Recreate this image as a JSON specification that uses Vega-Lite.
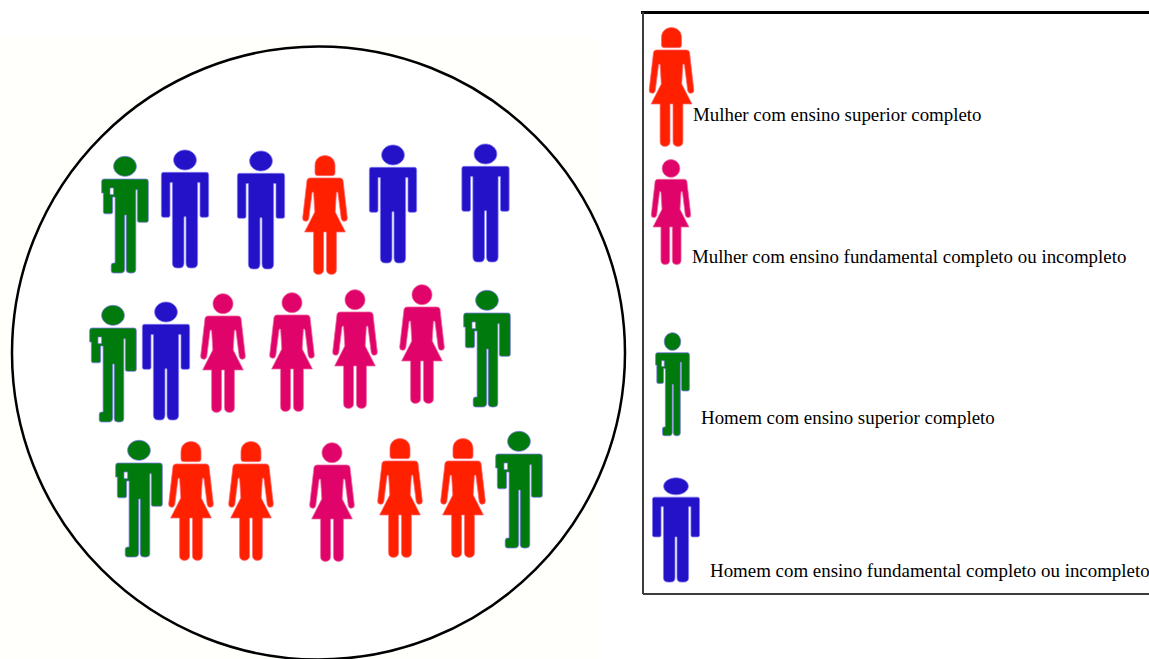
{"$schema":"https://vega.github.io/schema/vega-lite/v6.json","width":1149,"height":659,"padding":0,"autosize":{"type":"none"},"background":"#ffffff","config":{"view":{"stroke":null}},
"datasets":{
"fundo":[{"x":0,"x2":600,"y":38,"y2":659}],
"circulo":[{"x":318.5,"y":353}],
"topo":[{"x":641,"x2":1149,"y":12.5,"y2":12.5}],
"lados":[{"x":643,"x2":643,"y":12,"y2":594},{"x":643,"x2":1149,"y":594,"y2":594}],
"pessoas":[
{"tipo":"HS","x":125,"y":215},{"tipo":"HF","x":185,"y":209},{"tipo":"HF","x":261,"y":210},{"tipo":"MS","x":325,"y":215},{"tipo":"HF","x":393,"y":204},{"tipo":"HF","x":485.5,"y":203},
{"tipo":"HS","x":113,"y":364},{"tipo":"HF","x":166,"y":361},{"tipo":"MF","x":223,"y":353},{"tipo":"MF","x":292,"y":352},{"tipo":"MF","x":355,"y":349},{"tipo":"MF","x":422,"y":344},{"tipo":"HS","x":487,"y":349},
{"tipo":"HS","x":139,"y":499},{"tipo":"MS","x":191,"y":501},{"tipo":"MS","x":251,"y":501},{"tipo":"MF","x":332,"y":502},{"tipo":"MS","x":400,"y":498},{"tipo":"MS","x":463,"y":498},{"tipo":"HS","x":519,"y":490},
{"tipo":"MS","x":671.5,"y":87},{"tipo":"MF legenda","x":671,"y":212},{"tipo":"HS legenda","x":672.5,"y":384.5},{"tipo":"HF legenda","x":676,"y":530}],
"textos":[{"t":"Mulher com ensino superior completo","x":693,"y":121},{"t":"Mulher com ensino fundamental completo ou incompleto","x":692,"y":263},{"t":"Homem com ensino superior completo","x":701,"y":424},{"t":"Homem com ensino fundamental completo ou incompleto","x":710,"y":577}]},
"layer":[
{"data":{"name":"fundo"},"mark":{"type":"rect","fill":"#fffffb"},"encoding":{"x":{"field":"x","type":"quantitative","scale":{"domain":[0,1149],"nice":false,"zero":false},"axis":null},"x2":{"field":"x2"},"y":{"field":"y","type":"quantitative","scale":{"domain":[659,0],"nice":false,"zero":false},"axis":null},"y2":{"field":"y2"}}},
{"data":{"name":"circulo"},"mark":{"type":"point","shape":"circle","filled":true,"fill":"#ffffff","stroke":"#000000","strokeWidth":2.5,"opacity":1,"size":375769,"clip":true},"encoding":{"x":{"field":"x","type":"quantitative"},"y":{"field":"y","type":"quantitative"}}},
{"data":{"name":"topo"},"mark":{"type":"rule","stroke":"#000000","strokeWidth":3},"encoding":{"x":{"field":"x","type":"quantitative"},"x2":{"field":"x2"},"y":{"field":"y","type":"quantitative"},"y2":{"field":"y2"}}},
{"data":{"name":"lados"},"mark":{"type":"rule","stroke":"#3c3c3c","strokeWidth":2},"encoding":{"x":{"field":"x","type":"quantitative"},"x2":{"field":"x2"},"y":{"field":"y","type":"quantitative"},"y2":{"field":"y2"}}},
{"data":{"name":"pessoas"},"mark":{"type":"point","filled":true,"opacity":1,"strokeWidth":1,"strokeOpacity":0.75},"encoding":{"x":{"field":"x","type":"quantitative"},"y":{"field":"y","type":"quantitative"},
"shape":{"field":"tipo","type":"nominal","legend":null,"scale":{"domain":["HF","HS","MS","MF","MF legenda","HS legenda","HF legenda"],"range":[
"M-.19 -.817C-.19 -.909 -.105 -.984 0 -.984C.105 -.984 .19 -.909 .19 -.817C.19 -.725 .105 -.65 0 -.65C-.105 -.65 -.19 -.725 -.19 -.817ZM-.36 -.611L.36 -.611Q.394 -.611 .394 -.57L.394 .11Q.394 .139 .36 .139L.28 .139Q.25 .139 .25 .11L.25 -.44L.21 -.44L.21 .9Q.21 .983 .13 .983L.09 .983Q.017 .983 .017 .9L.017 .13L-.017 .13L-.017 .9Q-.017 .983 -.09 .983L-.13 .983Q-.21 .983 -.21 .9L-.21 -.44L-.25 -.44L-.25 .11Q-.25 .139 -.28 .139L-.36 .139Q-.394 .139 -.394 .11L-.394 -.57Q-.394 -.611 -.36 -.611Z",
"M-.19 -.811C-.19 -.903 -.105 -.978 0 -.978C.105 -.978 .19 -.903 .19 -.811C.19 -.719 .105 -.644 0 -.644C-.105 -.644 -.19 -.719 -.19 -.811ZM-.35 -.6L.35 -.6Q.389 -.6 .389 -.56L.389 .09Q.389 .122 .355 .122L.24 .122Q.206 .122 .206 .09L.206 -.42L.18 -.42L.18 .91Q.18 .967 .12 .967L.08 .967Q.02 .967 .02 .91L.02 0L-.005 0L-.005 .9Q-.005 .967 -.07 .967L-.19 .967Q-.23 .967 -.23 .93L-.23 .84Q-.23 .8 -.19 .8L-.165 .8L-.165 -.3L-.206 -.3L-.206 -.05Q-.206 -.02 -.235 -.02L-.33 -.02Q-.361 -.02 -.361 -.05L-.361 -.367L-.389 -.367L-.389 -.56Q-.389 -.6 -.35 -.6ZM-.25 -.45L-.25 -.34L-.19 -.34L-.19 -.45Z",
"M-.167 -.82C-.167 -.93 -.09 -.99 0 -.99C.09 -.99 .167 -.93 .167 -.82L.167 -.7Q.167 -.656 .12 -.656L-.12 -.656Q-.167 -.656 -.167 -.7ZM-.25 -.617L.25 -.617Q.29 -.617 .3 -.58L.372 .05Q.375 .105 .32 .105Q.28 .105 .27 .06L.215 -.38L.19 -.38L.17 -.05L.34 .283L.19 .283L.19 .91Q.19 .99 .11 .99Q.025 .99 .025 .91L.025 .283L-.025 .283L-.025 .91Q-.025 .99 -.11 .99Q-.19 .99 -.19 .91L-.19 .283L-.34 .283L-.17 -.05L-.19 -.38L-.215 -.38L-.27 .06Q-.28 .105 -.32 .105Q-.375 .105 -.372 .05L-.3 -.58Q-.29 -.617 -.25 -.617Z",
"M-.167 -.822C-.167 -.914 -.092 -.989 0 -.989C.092 -.989 .167 -.914 .167 -.822C.167 -.73 .092 -.655 0 -.655C-.092 -.655 -.167 -.73 -.167 -.822ZM-.25 -.617L.25 -.617Q.29 -.617 .3 -.58L.372 .05Q.375 .105 .32 .105Q.28 .105 .27 .06L.215 -.38L.19 -.38L.17 -.05L.34 .283L.19 .283L.19 .91Q.19 .99 .11 .99Q.025 .99 .025 .91L.025 .283L-.025 .283L-.025 .91Q-.025 .99 -.11 .99Q-.19 .99 -.19 .91L-.19 .283L-.34 .283L-.17 -.05L-.19 -.38L-.215 -.38L-.27 .06Q-.28 .105 -.32 .105Q-.375 .105 -.372 .05L-.3 -.58Q-.29 -.617 -.25 -.617Z",
"M-.167 -.822C-.167 -.914 -.092 -.989 0 -.989C.092 -.989 .167 -.914 .167 -.822C.167 -.73 .092 -.655 0 -.655C-.092 -.655 -.167 -.73 -.167 -.822ZM-.25 -.617L.25 -.617Q.29 -.617 .3 -.58L.372 .05Q.375 .105 .32 .105Q.28 .105 .27 .06L.215 -.38L.19 -.38L.17 -.05L.34 .283L.19 .283L.19 .91Q.19 .99 .11 .99Q.025 .99 .025 .91L.025 .283L-.025 .283L-.025 .91Q-.025 .99 -.11 .99Q-.19 .99 -.19 .91L-.19 .283L-.34 .283L-.17 -.05L-.19 -.38L-.215 -.38L-.27 .06Q-.28 .105 -.32 .105Q-.375 .105 -.372 .05L-.3 -.58Q-.29 -.617 -.25 -.617Z",
"M-.156 -.811C-.156 -.903 -.086 -.978 0 -.978C.086 -.978 .156 -.903 .156 -.811C.156 -.719 .086 -.644 0 -.644C-.086 -.644 -.156 -.719 -.156 -.811ZM-.287 -.6L.287 -.6Q.319 -.6 .319 -.56L.319 .09Q.319 .122 .291 .122L.197 .122Q.169 .122 .169 .09L.169 -.42L.148 -.42L.148 .91Q.148 .967 .098 .967L.066 .967Q.016 .967 .016 .91L.016 0L-.004 0L-.004 .9Q-.004 .967 -.057 .967L-.156 .967Q-.189 .967 -.189 .93L-.189 .84Q-.189 .8 -.156 .8L-.135 .8L-.135 -.3L-.169 -.3L-.169 -.05Q-.169 -.02 -.193 -.02L-.271 -.02Q-.296 -.02 -.296 -.05L-.296 -.367L-.319 -.367L-.319 -.56Q-.319 -.6 -.287 -.6ZM-.205 -.45L-.205 -.34L-.156 -.34L-.156 -.45Z",
"M-.233 -.824C-.233 -.915 -.128 -.984 0 -.984C.128 -.984 .233 -.915 .233 -.824C.233 -.733 .128 -.664 0 -.664C-.128 -.664 -.233 -.733 -.233 -.824ZM-.406 -.62L.406 -.62Q.444 -.62 .444 -.58L.444 .1Q.444 .13 .406 .13L.316 .13Q.282 .13 .282 .1L.282 -.44L.237 -.44L.237 .9Q.237 .983 .147 .983L.101 .983Q.019 .983 .019 .9L.019 .13L-.019 .13L-.019 .9Q-.019 .983 -.101 .983L-.147 .983Q-.237 .983 -.237 .9L-.237 -.44L-.282 -.44L-.282 .1Q-.282 .13 -.316 .13L-.406 .13Q-.444 .13 -.444 .1L-.444 -.58Q-.444 -.62 -.406 -.62Z"
]}},
"size":{"field":"tipo","type":"nominal","legend":null,"scale":{"type":"ordinal","domain":["HF","HS","MS","MF","MF legenda","HS legenda","HF legenda"],"range":[14400,14400,14400,14400,11236,11236,11236]}},
"fill":{"field":"tipo","type":"nominal","legend":null,"scale":{"domain":["HF","HS","MS","MF","MF legenda","HS legenda","HF legenda"],"range":["#2412c8","#007a0c","#ff2000","#e0046a","#e0046a","#007a0c","#2412c8"]}},
"stroke":{"field":"tipo","type":"nominal","legend":null,"scale":{"domain":["HF","HS","MS","MF","MF legenda","HS legenda","HF legenda"],"range":["#8078f0","#8078f0","#ff6a70","#ee6aa0","#ee6aa0","#8078f0","#8078f0"]}}}},
{"data":{"name":"textos"},"mark":{"type":"text","align":"left","baseline":"alphabetic","font":"Liberation Serif","fontSize":18.9,"color":"#000000"},"encoding":{"x":{"field":"x","type":"quantitative"},"y":{"field":"y","type":"quantitative"},"text":{"field":"t","type":"nominal"}}}
]}
